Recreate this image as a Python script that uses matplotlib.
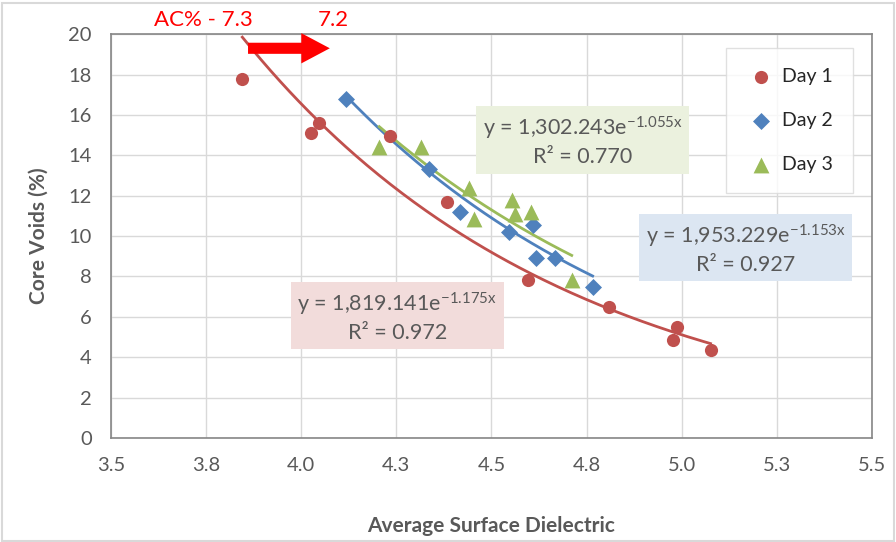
import numpy as np
import matplotlib
matplotlib.use("Agg")
import matplotlib.pyplot as plt
from matplotlib.patches import FancyArrow, Rectangle

# values
day1_x = [3.845, 4.026, 4.047, 4.232, 4.382, 4.595, 4.808, 4.987, 4.976, 5.076]
day1_y = [17.8, 15.1, 15.6, 14.95, 11.7, 7.8, 6.5, 5.5, 4.85, 4.35]
day2_x = [4.118, 4.337, 4.416, 4.547, 4.608, 4.618, 4.666, 4.766]
day2_y = [16.8, 13.3, 11.2, 10.2, 10.55, 8.9, 8.9, 7.5]
day3_x = [4.205, 4.316, 4.442, 4.455, 4.555, 4.563, 4.605, 4.711]
day3_y = [14.4, 14.4, 12.4, 10.85, 11.8, 11.1, 11.2, 7.8]

# trendline coefficients as printed on the chart (y = a * exp(b * x))
fit_a = [1819.141, 1953.229, 1302.243]
fit_b = [-1.175, -1.153, -1.055]
fit_r2 = ["0.972", "0.927", "0.770"]

series_names = ["Day 1", "Day 2", "Day 3"]
xticks = [3.5, 3.75, 4.0, 4.25, 4.5, 4.75, 5.0, 5.25, 5.5]
xtick_labels = ["3.5", "3.8", "4.0", "4.3", "4.5", "4.8", "5.0", "5.3", "5.5"]
yticks = list(range(0, 21, 2))

red, blue, green = "#C0504D", "#4F81BD", "#9BBB59"
txt = "#595959"
plt.rcParams["font.family"] = ["Lato", "DejaVu Sans"]
plt.rcParams["mathtext.default"] = "regular"

fig = plt.figure(figsize=(8.96, 5.42), dpi=100)
fig.patches.append(Rectangle((0.002, 0.002), 0.996, 0.993, transform=fig.transFigure,
                             fill=False, ec="#D9D9D9", lw=1.5))
ax = fig.add_axes([0.124, 0.192, 0.849, 0.745])

xs = [day1_x, day2_x, day3_x]
ys = [day1_y, day2_y, day3_y]
colors = [red, blue, green]
markers = ["o", "D", "^"]
sizes = [90, 75, 130]

for i in range(3):
    x = np.array(xs[i])
    xx = np.linspace(x.min(), x.max(), 200)
    ax.plot(xx, fit_a[i] * np.exp(fit_b[i] * xx), color=colors[i], lw=2, zorder=2)
for i in range(3):
    ax.scatter(xs[i], ys[i], s=sizes[i], marker=markers[i], color=colors[i],
               label=series_names[i], zorder=3, linewidths=0)

ax.set_xlim(3.5, 5.5)
ax.set_ylim(0, 20)
ax.set_xticks(xticks)
ax.set_xticklabels(xtick_labels)
ax.set_yticks(yticks)
ax.grid(True, color="#D9D9D9", lw=1)
ax.set_axisbelow(True)
ax.tick_params(length=0, labelsize=14.5, colors=txt)
ax.tick_params(axis="x", pad=14)
ax.tick_params(axis="y", pad=14)
for s in ax.spines.values():
    s.set_color("#868686")
    s.set_linewidth(1.2)

ax.set_xlabel("Average Surface Dielectric", fontsize=15, fontweight="bold", color=txt, labelpad=30)
ax.set_ylabel("Core Voids (%)", fontsize=15, fontweight="bold", color=txt, labelpad=14)

leg = ax.legend(loc="upper right", bbox_to_anchor=(0.975, 0.965), frameon=True,
                fontsize=14, labelspacing=1.4, handletextpad=0.3, borderpad=1.0,
                handlelength=1.6, borderaxespad=0, fancybox=False)
leg.get_frame().set_edgecolor("#D9D9D9")
for t in leg.get_texts():
    t.set_color("#262626")

# trendline equations
boxes = [(0.376, 0.30, "#F2DCDB"), (0.834, 0.468, "#DCE6F2"), (0.62, 0.735, "#EBF1DE")]
for i in range(3):
    bx, by, fc = boxes[i]
    lbl = "y = {:,.3f}e$^{{{:.3f}x}}$\nR² = {}".format(fit_a[i], fit_b[i], fit_r2[i])
    ax.text(bx, by, lbl, transform=ax.transAxes, ha="center", va="center",
            fontsize=15.5, color=txt, linespacing=1.3, zorder=4,
            bbox=dict(boxstyle="square,pad=0.3", fc=fc, ec="none"))

# AC% annotation
ax.add_patch(FancyArrow(3.86, 19.3, 0.215, 0, width=0.55, head_width=1.5, head_length=0.075,
                        length_includes_head=True, color="#FF0000", ec="none", zorder=5, clip_on=False))
fig.text(203 / 896, 1 - 20 / 542, "AC% - 7.3", color="#FF0000", fontsize=16, ha="center", va="center")
fig.text(333 / 896, 1 - 20 / 542, "7.2", color="#FF0000", fontsize=16, ha="center", va="center")

fig.savefig("out.png", dpi=100)
